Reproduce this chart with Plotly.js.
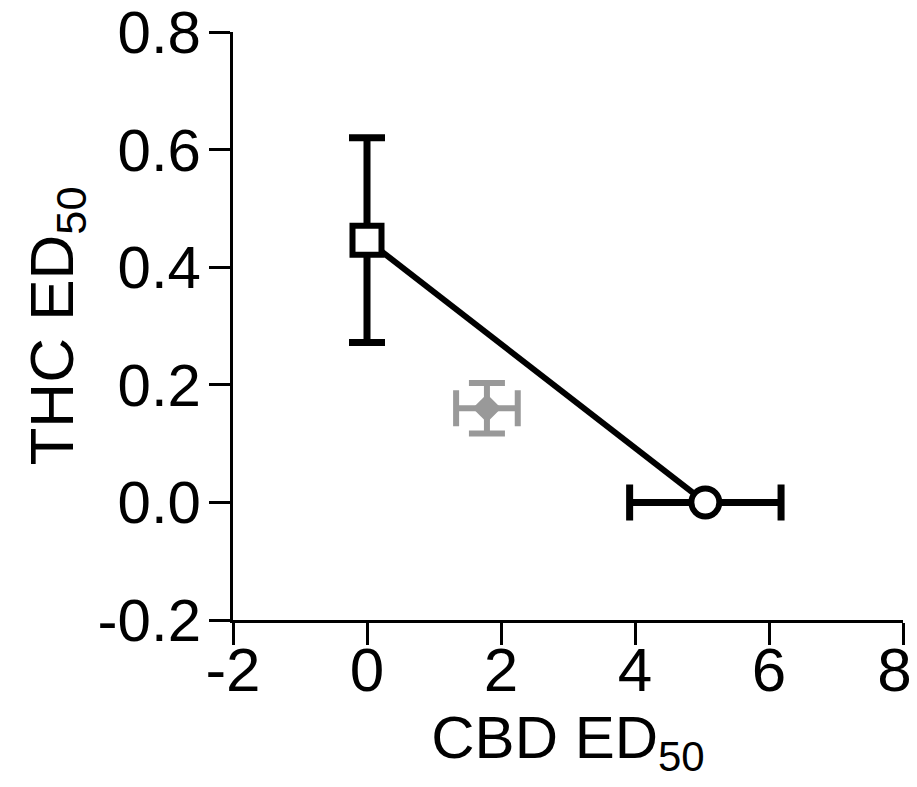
<!DOCTYPE html>
<html>
<head>
<meta charset="utf-8">
<script src="https://cdn.plot.ly/plotly-3.0.1.min.js"></script>
<style>html,body{margin:0;padding:0;background:#fff;}#chart{width:917px;height:787px;}</style>
</head>
<body>
<div id="chart"></div>
<script>
// Isobole line (THC alone -> CBD alone)
const isoboleX = [0, 5.05];
const isoboleY = [0.446, 0];
// THC alone ED50 (square) with y error
const thcX = [0];
const thcY = [0.446];
const thcErrY = [0.174];
// CBD alone ED50 (circle) with x error
const cbdX = [5.05];
const cbdY = [0];
const cbdErrX = [1.13];
// Mixture ED50 (grey diamond) with x and y error
const mixX = [1.79];
const mixY = [0.16];
const mixErrX = [0.46];
const mixErrY = [0.043];

const xTicks = [-2, 0, 2, 4, 6, 8];
const xTickText = ['-2', '0', '2', '4', '6', '8\u00a0'];
const yTicks = [-0.2, 0, 0.2, 0.4, 0.6, 0.8];
const yTickText = ['-0.2', '0.0', '0.2', '0.4', '0.6', '0.8'];

const FONT = 'Liberation Sans, Arial, Helvetica, sans-serif';

const traces = [
  {x: isoboleX, y: isoboleY, mode: 'lines', line: {color: '#000', width: 6}, hoverinfo: 'skip'},
  {x: mixX, y: mixY, mode: 'markers', marker: {symbol: 'diamond', size: 22, color: '#999999'},
   error_x: {type: 'data', array: mixErrX, visible: true, color: '#999999', thickness: 6, width: 18},
   error_y: {type: 'data', array: mixErrY, visible: true, color: '#999999', thickness: 6, width: 18}},
  {x: thcX, y: thcY, mode: 'markers',
   marker: {symbol: 'square', size: 29, color: '#fff', line: {color: '#000', width: 6}},
   error_y: {type: 'data', array: thcErrY, visible: true, color: '#000', thickness: 7, width: 18}},
  {x: cbdX, y: cbdY, mode: 'markers',
   marker: {symbol: 'circle', size: 28, color: '#fff', line: {color: '#000', width: 6}},
   error_x: {type: 'data', array: cbdErrX, visible: true, color: '#000', thickness: 7, width: 18}}
];

const layout = {
  width: 917, height: 787,
  margin: {l: 233, r: 14, t: 32, b: 167},
  paper_bgcolor: '#fff', plot_bgcolor: '#fff',
  showlegend: false,
  font: {family: FONT, color: '#000', size: 60},
  xaxis: {
    range: [-2, 8], tickmode: 'array', tickvals: xTicks, ticktext: xTickText,
    showgrid: false, zeroline: false, showline: true, linecolor: '#000', linewidth: 3,
    ticks: 'outside', ticklen: 22, tickwidth: 3, tickcolor: '#000',
    ticklabeloverflow: 'allow', ticklabelstandoff: -28,
    tickfont: {family: FONT, size: 62, color: '#000'},
    title: {text: 'CBD ED<sub>50</sub>', font: {family: FONT, size: 60, color: '#000'}, standoff: 4}
  },
  yaxis: {
    range: [-0.2, 0.8], tickmode: 'array', tickvals: yTicks, ticktext: yTickText,
    showgrid: false, zeroline: false, showline: true, linecolor: '#000', linewidth: 3,
    ticks: 'outside', ticklen: 21, tickwidth: 3, tickcolor: '#000',
    ticklabeloverflow: 'allow', ticklabelstandoff: -4,
    tickfont: {family: FONT, size: 60, color: '#000'},
    title: {text: 'THC ED<sub>50</sub>', font: {family: FONT, size: 62, color: '#000'}, standoff: 4}
  }
};

Plotly.newPlot('chart', traces, layout, {staticPlot: true, displayModeBar: false});
</script>
</body>
</html>
